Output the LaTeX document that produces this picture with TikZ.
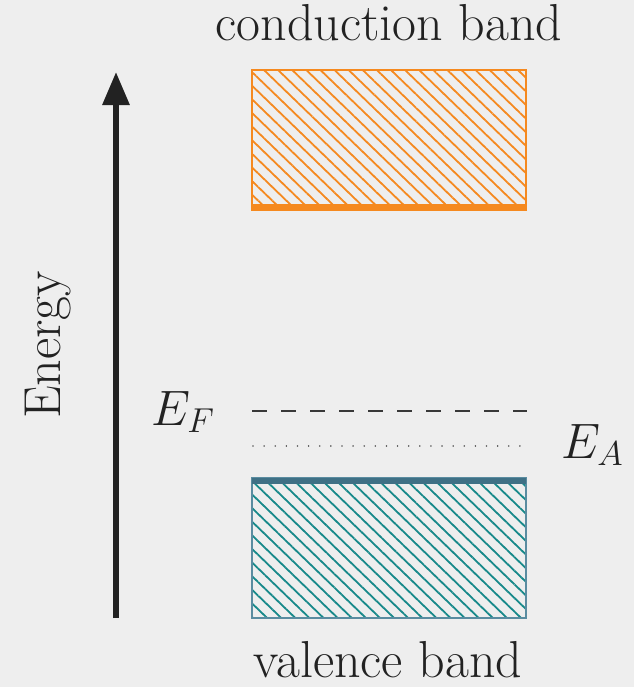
\documentclass[tikz,border=0pt]{standalone}
\usetikzlibrary{arrows.meta,patterns.meta}
\definecolor{bgc}{HTML}{EEEEEE}
\definecolor{orng}{HTML}{F5891F}
\definecolor{tealh}{HTML}{17898A}
\definecolor{tealb}{HTML}{5A8CA0}
\definecolor{tealt}{HTML}{3F7085}
\definecolor{ink}{HTML}{222222}
\tikzset{
  bandbox/.style={draw, line width=0.8pt, minimum width=137pt, minimum height=70pt, inner sep=0pt, outer sep=0pt},
  cbox/.style={bandbox, draw=orng, pattern={Lines[angle=-44,distance=4.9pt,line width=0.9pt]}, pattern color=orng},
  vbox/.style={bandbox, draw=tealb, pattern={Lines[angle=-44,distance=4.9pt,line width=0.9pt]}, pattern color=tealh},
  lbl/.style={font=\fontsize{26}{31}\selectfont, text=ink, inner sep=0pt},
  energyarrow/.style={draw=ink, line width=3pt, -{Triangle[length=16.5pt,width=13pt]}},
  fermi/.style={draw=ink!90, line width=1pt, dash pattern=on 7.5pt off 7pt},
  accept/.style={draw=ink!75, line width=0.8pt, line cap=round, dash pattern=on 0.01pt off 5.55pt}
}
\begin{document}
\begin{tikzpicture}[x=0.5pt,y=-0.5pt]
\fill[bgc] (0,0) rectangle (634,687);
\useasboundingbox (0,0) rectangle (634,687);
% bands
\node[cbox] (cb) at (389,140) {};
\node[vbox] (vb) at (389,548) {};
\draw[orng, line width=3pt] ([yshift=1.5pt]cb.south west) -- ([yshift=1.5pt]cb.south east);
\draw[tealt, line width=3pt] ([yshift=-1.5pt]vb.north west) -- ([yshift=-1.5pt]vb.north east);
% labels
\node[lbl, anchor=base] (ct) at (389,40) {conduction band};
\node[lbl, anchor=base] (vt) at (388,677) {valence band};
\node[lbl, anchor=base, rotate=90] (en) at (61,345) {Energy};
\node[lbl, anchor=base west] (ef) at (151,425) {$E_F$};
\node[lbl, anchor=base west] (ea) at (561,458) {$E_A$};
% arrow
\coordinate (abot) at (116,618);
\coordinate (atop) at (116,72);
\draw[energyarrow] (abot) -- (atop);
% levels
\coordinate (f1) at (252,411);
\coordinate (f2) at (527,411);
\draw[fermi] (f1) -- (f2);
\coordinate (a1) at (253,446);
\coordinate (a2) at (522,446);
\draw[accept] (a1) -- (a2);
\end{tikzpicture}
\end{document}
